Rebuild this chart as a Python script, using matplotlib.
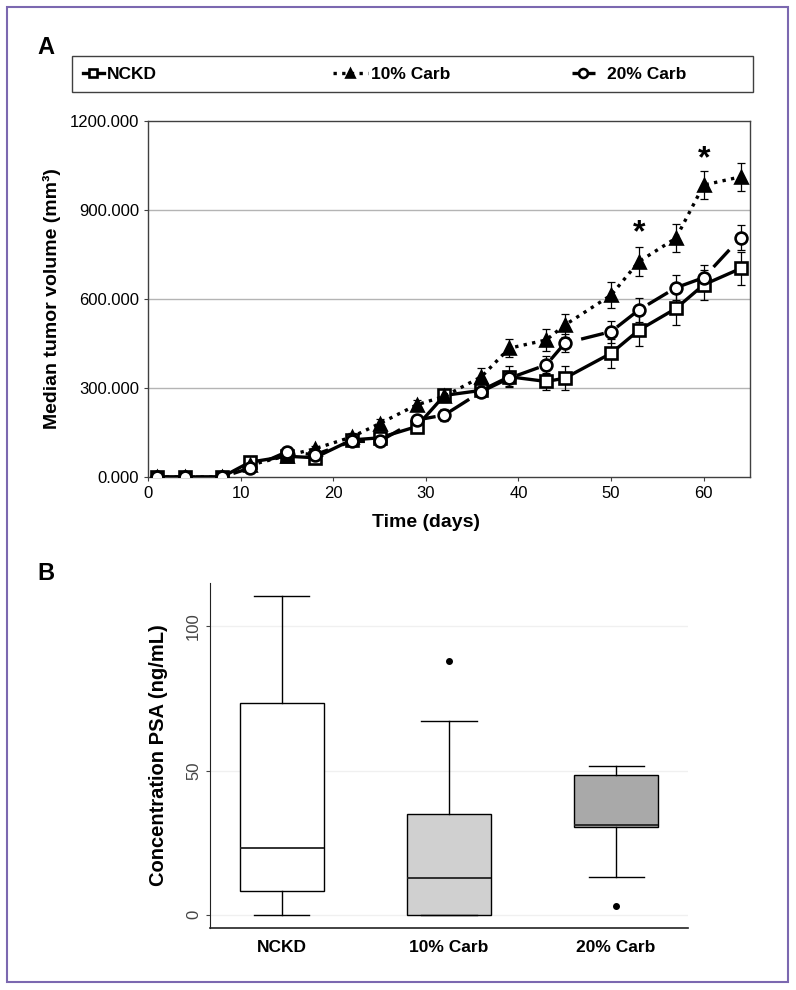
import numpy as np
import matplotlib
matplotlib.use('Agg')
import matplotlib.pyplot as plt
from matplotlib.patches import Rectangle

plt.rcParams['font.family'] = ['Liberation Sans', 'DejaVu Sans']

# panel A: median tumor volume over time
days = [1, 4, 8, 11, 15, 18, 22, 25, 29, 32, 36, 39, 43, 45, 50, 53, 57, 60, 64]
nckd = [0, 0, 0, 50, 70, 65, 125, 132, 170, 275, 292, 338, 322, 333, 417, 495, 568, 648, 703]
nckd_err = [0, 0, 0, 6, 8, 8, 10, 12, 15, 18, 20, 35, 30, 40, 48, 55, 55, 50, 55]
carb10 = [0, 0, 0, 40, 72, 95, 135, 180, 243, 272, 338, 434, 462, 512, 613, 726, 805, 984, 1012]
carb10_err = [0, 0, 0, 6, 8, 10, 12, 15, 18, 20, 28, 31, 38, 39, 45, 48, 48, 46, 47]
carb20 = [0, 0, 0, 30, 85, 75, 120, 120, 192, 209, 288, 333, 378, 451, 490, 563, 638, 672, 807]
carb20_err = [0, 0, 0, 6, 8, 8, 10, 10, 15, 20, 20, 25, 30, 31, 37, 42, 42, 43, 43]
sig_days = [53, 60]
sig_y = [822, 1072]

# panel B: PSA box plot
groups = ['NCKD', '10% Carb', '20% Carb']
box_med = [23.1, 12.9, 31.2]
box_q1 = [8.1, 0.0, 30.4]
box_q3 = [73.4, 35.0, 48.4]
box_lo = [0.0, 0.0, 13.0]
box_hi = [110.6, 67.0, 51.6]
box_fliers = [[], [87.8], [3.1]]
box_colors = ['white', '#d0d0d0', '#a9a9a9']

W, H = 796, 990
fig = plt.figure(figsize=(W / 100, H / 100), dpi=100)

def fx(px):
    return px / W

def fy(py):
    return 1 - py / H

# purple frame round the whole figure
fig.patches.append(Rectangle((fx(7), fy(982)), fx(781), (975) / H, transform=fig.transFigure,
                             fill=False, edgecolor='#7b68b0', linewidth=1.5))

# ---- panel A ----
axA = fig.add_axes([fx(148), fy(477), fx(750 - 148), (477 - 121) / H])
series = [
    (nckd, nckd_err, 'NCKD', dict(marker='s', mfc='white', ls='-')),
    (carb10, carb10_err, '10% Carb', dict(marker='^', mfc='black', ls=(0, (1, 1.6)))),
    (carb20, carb20_err, '20% Carb', dict(marker='o', mfc='white', ls=(0, (7, 4.5)))),
]
handles = []
for vals, err, name, st in series:
    axA.errorbar(days, vals, yerr=err, fmt='none', ecolor='black', elinewidth=0.9,
                 capsize=3, capthick=0.9, zorder=2)
    h, = axA.plot(days, vals, color='black', lw=2.4, ls=st['ls'], marker=st['marker'],
                  ms=8.5, mfc=st['mfc'], mec='black', mew=1.9, label=name, zorder=3)
    handles.append(h)

for d, y in zip(sig_days, sig_y):
    axA.text(d, y, '*', ha='center', va='center', fontsize=23, fontweight='bold')

axA.set_xlim(0, 65)
axA.set_ylim(0, 1200)
axA.set_xticks([0, 10, 20, 30, 40, 50, 60])
axA.set_yticks([0, 300, 600, 900, 1200])
axA.set_yticklabels(['%.3f' % v for v in [0, 300, 600, 900, 1200]])
axA.tick_params(labelsize=12, length=3, color='#404040')
for y in [300, 600, 900]:
    axA.axhline(y, color='#b4b4b4', lw=1.0, zorder=0)
for s in axA.spines.values():
    s.set_color('#404040')
    s.set_linewidth(1.0)
axA.set_xlabel('Time (days)', fontsize=14, fontweight='bold')
axA.xaxis.set_label_coords(0.462, -0.105)
axA.set_ylabel('Median tumor volume (mm³)', fontsize=14, fontweight='bold', labelpad=6)

fig.text(fx(46), fy(47), 'A', fontsize=17, fontweight='bold', ha='center', va='center')

# legend box with three entries
fig.patches.append(Rectangle((fx(72), fy(92)), fx(753 - 72), 36 / H, transform=fig.transFigure,
                             fill=False, edgecolor='#404040', linewidth=1.0))
leg_x = [83, 333, 572]
leg_len = [1.2, 2.0, 1.3]
leg_pad = [0.2, 0.2, 0.7]
for h, x, hl, hp in zip(handles, leg_x, leg_len, leg_pad):
    fig.legend(handles=[h], loc='center left', bbox_to_anchor=(fx(x), fy(74)),
               frameon=False, numpoints=1, handlelength=hl, handletextpad=hp,
               markerscale=0.75, borderpad=0, borderaxespad=0,
               prop={'weight': 'bold', 'size': 12.5})

# ---- panel B ----
axB = fig.add_axes([fx(210), fy(928), fx(688 - 210), (928 - 583) / H])
stats = []
for i, g in enumerate(groups):
    stats.append(dict(label=g, med=box_med[i], q1=box_q1[i], q3=box_q3[i],
                      whislo=box_lo[i], whishi=box_hi[i], fliers=box_fliers[i]))
bp = axB.bxp(stats, positions=[1, 2, 3], widths=0.5, patch_artist=True, capwidths=0.33,
             boxprops=dict(edgecolor='black', linewidth=1.0),
             medianprops=dict(color='#222222', linewidth=1.3),
             whiskerprops=dict(color='black', linewidth=1.0),
             capprops=dict(color='black', linewidth=1.0),
             flierprops=dict(marker='o', markerfacecolor='black', markeredgecolor='black',
                             markersize=4))
for patch, c in zip(bp['boxes'], box_colors):
    patch.set_facecolor(c)

axB.set_xlim(0.57, 3.43)
axB.set_ylim(-4.6, 115)
axB.set_yticks([0, 50, 100])
axB.set_yticklabels(['0', '50', '100'], rotation=90, va='center', color='#444444')
axB.tick_params(axis='y', labelsize=12, length=3, color='#444444')
axB.tick_params(axis='x', length=0, pad=9)
for lbl in axB.get_xticklabels():
    lbl.set_fontweight('bold')
    lbl.set_fontsize(12.5)
for y in [0, 50, 100]:
    axB.axhline(y, color='#f0f0f0', lw=1.0, zorder=0)
axB.spines['top'].set_visible(False)
axB.spines['right'].set_visible(False)
axB.spines['left'].set_color('#222222')
axB.spines['bottom'].set_color('#222222')
axB.spines['bottom'].set_linewidth(1.2)
axB.set_ylabel('Concentration PSA (ng/mL)', fontsize=14.5, fontweight='bold', labelpad=13)

fig.text(fx(46), fy(573), 'B', fontsize=17, fontweight='bold', ha='center', va='center')

fig.savefig('out.png', dpi=100)
